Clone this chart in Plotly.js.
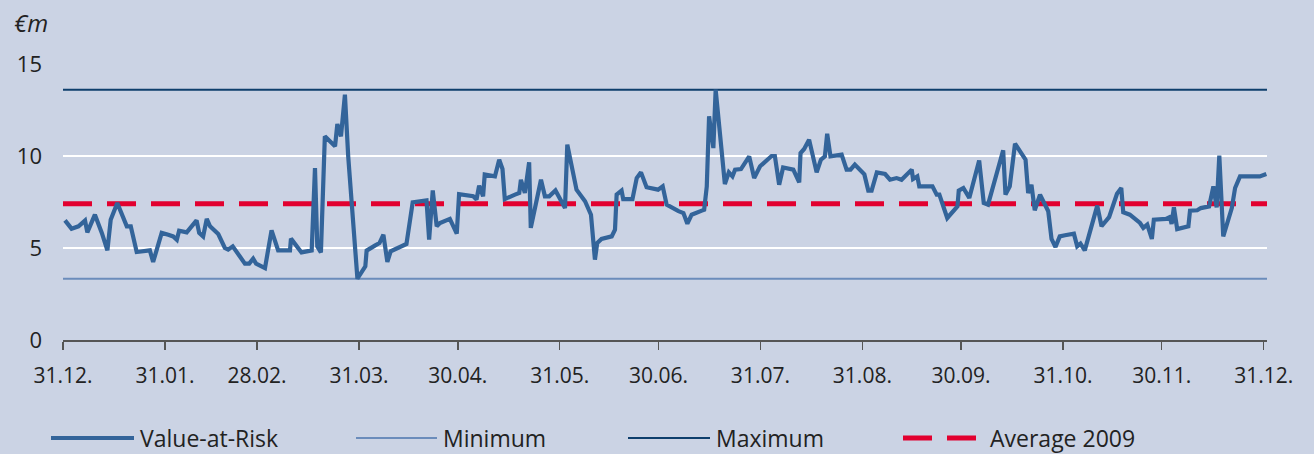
<!DOCTYPE html>
<html>
<head>
<meta charset="utf-8">
<script src="https://cdn.plot.ly/plotly-3.0.1.min.js"></script>
<style>
html,body{margin:0;padding:0;background:#cbd3e4;}
#chart{width:1314px;height:454px;}
</style>
</head>
<body>
<div id="chart"></div>
<script>
// Day offset from 31.12.2008
var days = [0.6,2.6,4.7,6.7,7.4,9.7,11.8,13.5,14.5,16.5,19.4,20.6,22.4,26.4,27.4,30.0,32.0,33.5,34.6,35.3,37.6,40.6,41.4,42.6,43.7,44.7,47.2,49.2,50.2,51.6,55.3,56.6,57.8,58.7,59.9,61.4,63.4,65.4,69.0,69.3,72.5,75.6,76.6,77.3,78.4,79.6,82.7,83.4,84.5,85.7,86.7,89.5,91.9,92.3,94.8,96.2,97.4,98.6,99.6,104.4,106.3,110.5,111.3,112.4,113.6,114.6,117.6,119.7,120.4,124.7,125.7,126.5,127.7,128.2,131.3,132.6,133.6,134.3,137.4,138.7,139.2,140.4,141.7,142.2,145.3,146.5,147.8,149.7,152.6,153.3,156.1,158.7,160.5,161.7,162.4,163.7,166.8,167.8,168.3,169.8,170.3,173.1,174.4,175.7,177.4,180.9,182.3,183.5,187.1,188.6,189.8,191.1,194.2,194.9,195.7,196.4,197.7,198.4,201.2,202.4,203.5,204.3,206.1,208.6,210.1,211.9,215.4,216.4,217.7,218.9,222.0,223.8,224.2,225.3,226.8,229.1,230.4,231.6,232.3,233.3,236.7,238.2,239.4,240.7,243.6,244.8,245.8,247.4,249.9,251.4,253.4,254.9,258.0,258.4,259.7,260.3,264.3,265.6,266.4,268.8,271.9,272.3,273.7,275.5,278.5,279.9,281.2,285.8,286.5,287.8,289.4,292.6,293.4,294.4,295.4,297.0,299.5,300.5,301.7,303.0,304.6,307.3,308.3,309.3,310.6,314.4,315.7,318.0,320.4,321.7,322.3,324.3,327.4,328.4,329.6,331.0,331.6,335.3,336.5,337.0,337.7,338.7,342.1,342.6,344.8,345.9,348.4,349.7,350.7,351.5,352.7,355.3,356.3,357.8,363.8,365.8];
var valueAtRisk = [6.50,6.05,6.18,6.49,5.85,6.81,5.82,4.87,6.54,7.45,6.18,6.18,4.78,4.87,4.24,5.82,5.72,5.63,5.45,5.94,5.85,6.50,5.82,5.63,6.58,6.18,5.76,5.00,4.91,5.09,4.15,4.15,4.42,4.15,4.04,3.91,5.96,4.87,4.87,5.51,4.76,4.87,9.35,5.09,4.76,11.07,10.53,11.74,11.07,13.33,9.98,3.33,4.00,4.86,5.13,5.27,5.72,4.24,4.82,5.22,7.48,7.59,5.45,8.13,6.18,6.36,6.58,5.78,7.93,7.81,7.63,8.39,7.81,8.99,8.89,9.80,9.29,7.66,7.90,7.99,8.71,7.99,9.66,6.09,8.71,7.81,7.81,8.13,7.17,10.62,8.17,7.54,6.81,4.37,5.27,5.49,5.63,6.00,7.90,8.12,7.66,7.66,8.80,9.11,8.30,8.17,8.35,7.36,7.00,6.90,6.32,6.81,7.03,7.08,8.35,12.16,10.43,13.61,8.48,9.11,8.89,9.26,9.29,9.98,8.80,9.44,10.00,10.00,8.44,9.38,9.26,8.57,10.16,10.38,10.89,9.11,9.80,9.98,11.21,9.98,10.07,9.26,9.26,9.53,9.00,8.12,8.12,9.11,9.02,8.71,8.80,8.71,9.26,8.75,8.89,8.35,8.35,7.90,7.90,6.63,7.26,8.12,8.26,7.72,9.76,7.45,7.36,10.31,7.90,8.35,10.67,9.80,7.99,8.44,7.05,7.90,7.00,5.49,5.05,5.63,5.69,5.78,5.09,5.24,4.87,7.30,6.18,6.68,7.95,8.26,6.94,6.81,6.36,6.09,6.27,5.49,6.54,6.58,6.68,6.30,7.21,6.03,6.18,7.03,7.05,7.17,7.26,8.35,7.21,10.02,5.63,7.17,8.26,8.89,8.89,9.02];
var period = [0, 366];
var minimumValue = 3.33;
var maximumValue = 13.6;
var average2009 = 7.4;
var tickDays = [0,31,59,90,120,151,181,212,243,273,304,334,365];
var tickLabels = ['31.12.','31.01.','28.02.','31.03.','30.04.','31.05.','30.06.','31.07.','31.08.','30.09.','31.10.','30.11.','31.12.'];
var seriesNames = ['Value-at-Risk','Minimum','Maximum','Average 2009'];

var bg = '#cbd3e4';
var cVar = '#33649a', cMin = '#6b8cbb', cMax = '#0e3e6c', cAvg = '#e2002f';
var font = '"Open Sans", "Noto Sans", sans-serif';

var traces = [
  {x: period, y: [minimumValue, minimumValue], mode:'lines', name: seriesNames[1], line:{color:cMin, width:2}, showlegend:false, hoverinfo:'skip'},
  {x: period, y: [maximumValue, maximumValue], mode:'lines', name: seriesNames[2], line:{color:cMax, width:2}, showlegend:false, hoverinfo:'skip'},
  {x: period, y: [average2009, average2009], mode:'lines', name: seriesNames[3], line:{color:cAvg, width:5, dash:'29px,15px'}, showlegend:false, hoverinfo:'skip'},
  {x: days, y: valueAtRisk, mode:'lines', name: seriesNames[0], line:{color:cVar, width:4.2, shape:'linear'}, showlegend:false}
];

// plot geometry (pixels)
var L = 63, R = 47, T = 64, B = 114, Wd = 1314, Ht = 454;
var PW = Wd - L - R, PH = Ht - T - B;
function px(xp){ return (xp - L) / PW; }
function py(yp){ return (Ht - B - yp) / PH; }

var legY = 438;
var legend = [
  {x0:51, x1:134, tx:138, color:cVar, width:4, dash:'solid'},
  {x0:356, x1:437, tx:441, color:cMin, width:2, dash:'solid'},
  {x0:628, x1:710, tx:714, color:cMax, width:2, dash:'solid'},
  {x0:903, x1:976, tx:988, color:cAvg, width:5, dash:'29px,15px'}
];
var shapes = [], annotations = [];
legend.forEach(function(it, i){
  shapes.push({type:'line', xref:'paper', yref:'paper', x0:px(it.x0), x1:px(it.x1), y0:py(legY), y1:py(legY), line:{color:it.color, width:it.width, dash:it.dash}});
  annotations.push({xref:'paper', yref:'paper', x:px(it.tx), y:py(legY), xanchor:'left', yanchor:'middle', showarrow:false, text:seriesNames[i], font:{family:font, size:23, color:'#222'}});
});
annotations.push({xref:'paper', yref:'paper', x:px(12), y:py(22), xanchor:'left', yanchor:'middle', showarrow:false, text:'<i>€m</i>', font:{family:font, size:24, color:'#222'}});

var layout = {
  width: Wd, height: Ht,
  margin:{l:L, r:R, t:T, b:B, pad:0},
  paper_bgcolor: bg, plot_bgcolor: bg,
  font:{family:font, size:21, color:'#222'},
  showlegend:false,
  xaxis:{range:[0,366], tickmode:'array', tickvals:tickDays, ticktext:tickLabels, ticks:'outside', ticklen:8, tickwidth:1.5, tickcolor:'#555', showline:true, linecolor:'#555', linewidth:1.5, showgrid:false, zeroline:false, tickfont:{family:font, size:21, color:'#222'}, ticklabelstandoff:8, fixedrange:true},
  yaxis:{range:[0,15], tickvals:[0,5,10,15], ticks:'', showgrid:true, gridcolor:'#ffffff', gridwidth:1.2, zeroline:false, showline:false, tickfont:{family:font, size:22, color:'#222'}, ticklabelstandoff:20, fixedrange:true},
  shapes: shapes,
  annotations: annotations
};

Plotly.newPlot('chart', traces, layout, {displayModeBar:false, staticPlot:true});
</script>
</body>
</html>
